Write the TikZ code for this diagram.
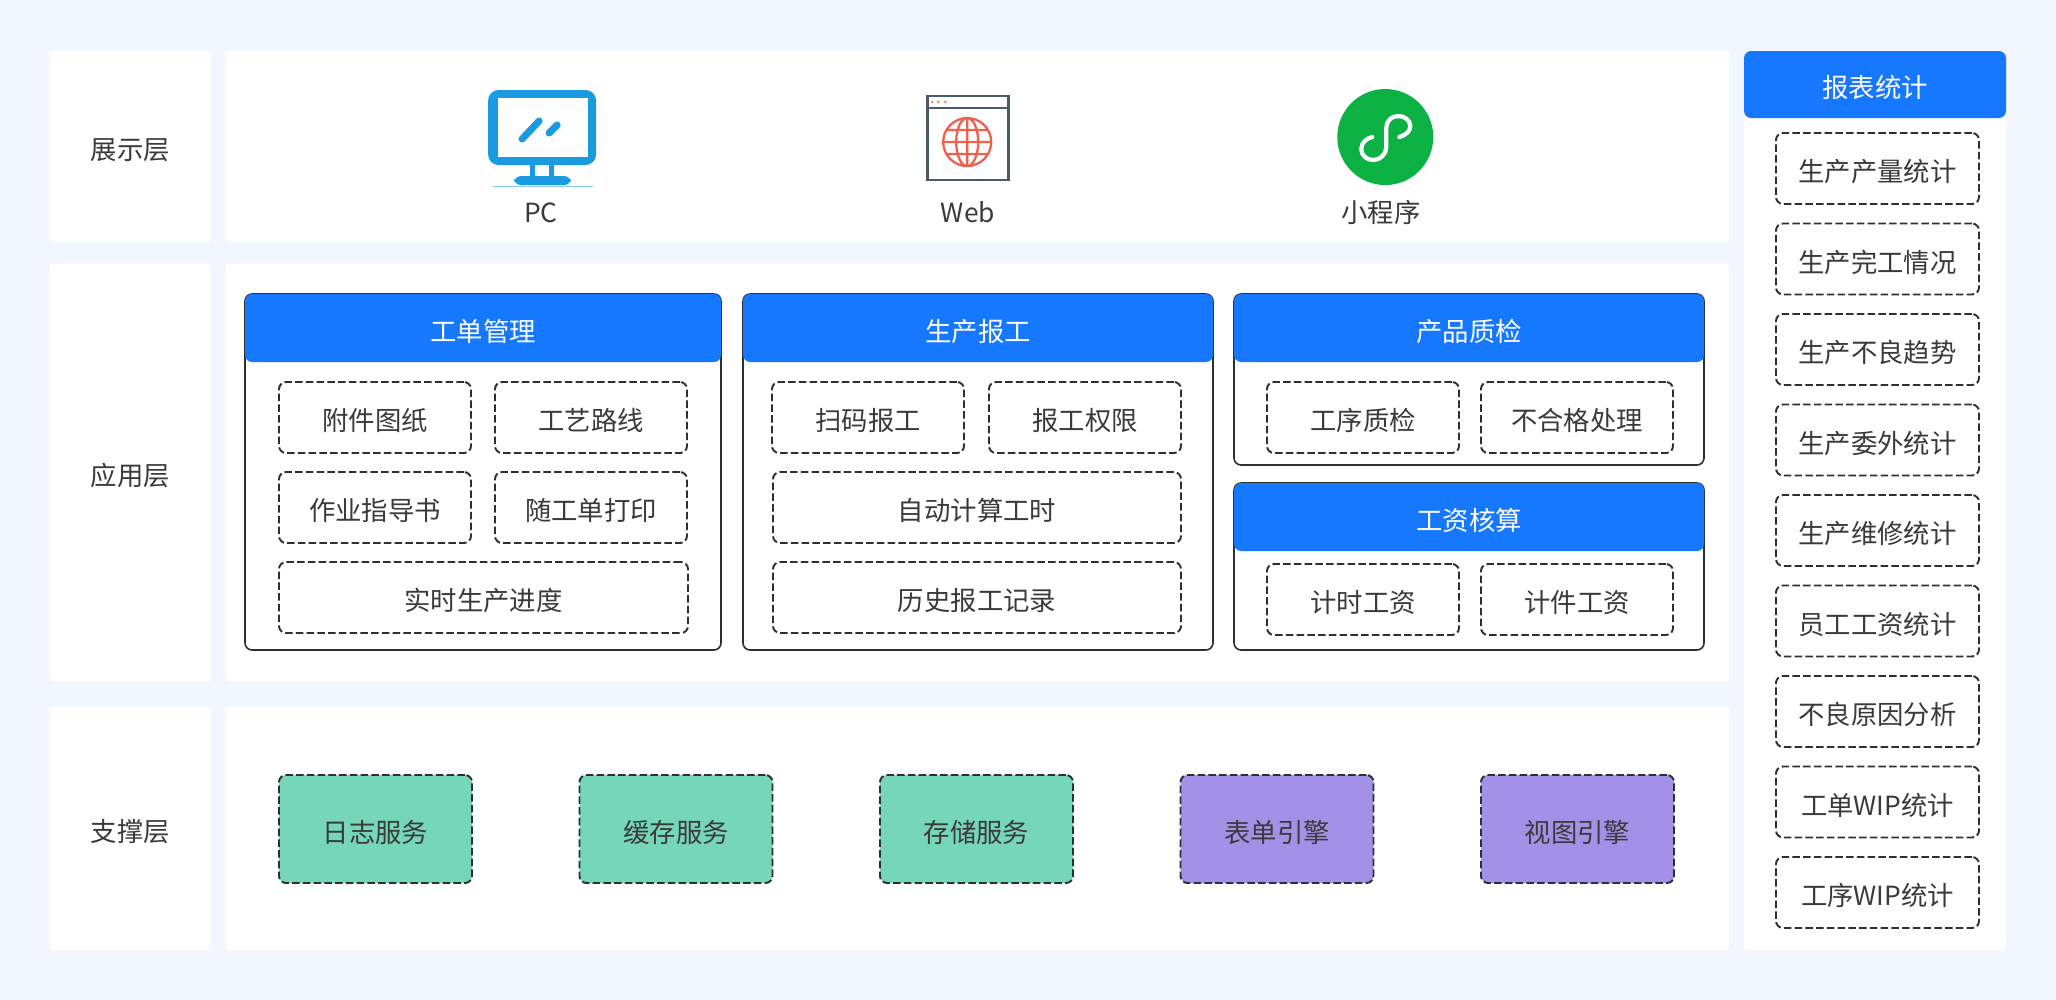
\documentclass[tikz,border=0pt]{standalone}
\usepackage{fontspec}
\setmainfont{Noto Sans CJK SC}
\usepackage{tikz}
\usetikzlibrary{positioning}
\definecolor{pagebg}{HTML}{F2F6FF}
\definecolor{headblue}{HTML}{1677FF}
\definecolor{textgray}{HTML}{3A3A3A}
\definecolor{framegray}{HTML}{2B2F36}
\definecolor{svcgreen}{HTML}{75D6B8}
\definecolor{svcpurple}{HTML}{A391E8}
\definecolor{pcblue}{HTML}{1A9BE0}
\definecolor{webgray}{HTML}{4A5A68}
\definecolor{webred}{HTML}{F0604F}
\definecolor{miniGreen}{HTML}{0CB144}

\begin{document}
\begin{tikzpicture}[
  every node/.style={font=\fontsize{15}{18}\selectfont, text=textgray, inner sep=0pt, outer sep=0pt,
                     text height=15.2pt, text depth=0pt},
  panel/.style={rectangle, fill=white, rounded corners=1pt, minimum width=3.22cm},
  group/.style={rectangle, rounded corners=4pt, draw=framegray, line width=0.9pt, fill=white},
  head/.style={rectangle, rounded corners=4pt, fill=headblue, text=white, minimum height=1.36cm},
  item/.style={rectangle, rounded corners=4pt, draw=framegray, line width=1.1pt,
               dash pattern=on 0.15cm off 0.065cm, minimum width=3.84cm, minimum height=1.42cm},
  wide/.style={item, minimum width=8.16cm},
  stat/.style={item, minimum width=4.06cm},
  green/.style={item, fill=svcgreen, minimum width=3.86cm, minimum height=2.16cm},
  purple/.style={item, fill=svcpurple, minimum width=3.86cm, minimum height=2.16cm},
]
\fill[pagebg] (0,0) rectangle (41.12,-20);

% Layers
\node[panel, minimum height=3.82cm, anchor=north west] (showlabel) at (1.0,-1.02) {展示层};
\node[panel, minimum height=3.82cm, minimum width=30.06cm, right=0.3cm of showlabel] (showmain) {};
\node[panel, minimum height=8.34cm, below=0.44cm of showlabel] (applabel) {应用层};
\node[panel, minimum height=8.34cm, minimum width=30.06cm, right=0.3cm of applabel] (appmain) {};
\node[panel, minimum height=4.86cm, below=0.52cm of applabel] (baselabel) {支撑层};
\node[panel, minimum height=4.86cm, minimum width=30.06cm, right=0.3cm of baselabel] (basemain) {};
\node[panel, minimum height=17.98cm, minimum width=5.24cm, right=0.3cm of showmain.north east, anchor=north west] (statmain) {};

% Client icons
\begin{scope}[x=0.02cm, y=-0.02cm]
  % PC
  \fill[pcblue, rounded corners=6pt] (488,90) rectangle (596,165);
  \fill[white] (498,98) rectangle (588,157);
  \fill[pcblue] (530,165) rectangle (535,177) (549,165) rectangle (554,177);
  \fill[pcblue, rounded corners=4pt] (514,176) rectangle (571,185);
  \draw[pcblue!50, line width=0.4pt] (493,186) -- (593,186);
  \draw[pcblue, line width=4pt, line cap=round] (522,139) -- (539,121) (549,133) -- (557,125);
  % Web
  \draw[webgray, line width=1.6pt] (927,96) rectangle (1008,180) (927,108) -- (1008,108);
  \fill[webred!70] (932,102) circle (1.6) (938,102) circle (1.6) (945,102) circle (1.6);
  \draw[webred, line width=1.3pt] (967,142) circle [radius=24]
    (967,142) ellipse [x radius=11, y radius=24]
    (967,118) -- (967,166) (943,142) -- (991,142)
    (946.2,130) -- (987.8,130) (946.2,154) -- (987.8,154);
  % Mini program
  \fill[miniGreen] (1385,137) circle [radius=48];
  \draw[white, line width=2.4pt, line cap=round] (1399,137)
    .. controls (1406,135) and (1410,131) .. (1410,126)
    .. controls (1410,120) and (1404,116) .. (1398,116)
    .. controls (1391,116) and (1386,121) .. (1386,128)
    -- (1386,147)
    .. controls (1386,154) and (1380,160) .. (1373,160)
    .. controls (1366,160) and (1361,155) .. (1361,149)
    .. controls (1361,143) and (1366,138) .. (1372,137);
\end{scope}
\node (pclabel) at (10.82,-4.174) {PC};
\node (weblabel) at (19.36,-4.174) {Web};
\node (minilabel) at (27.62,-4.174) {小程序};

% Work orders
\node[group, minimum width=9.52cm, minimum height=7.12cm, below right=0.6cm and 0.38cm of appmain.north west, anchor=north west] (ordergroup) {};
\node[head, minimum width=9.52cm, below=0pt of ordergroup.north] (orderhead) {工单管理};
\node[item, below right=0.4cm and 0.68cm of orderhead.south west, anchor=north west] (drawing) {附件图纸};
\node[item, right=0.48cm of drawing] (route) {工艺路线};
\node[item, below=0.38cm of drawing] (guide) {作业指导书};
\node[item, right=0.48cm of guide] (ticket) {随工单打印};
\node[wide, below=0.38cm of guide.south west, anchor=north west, minimum width=8.18cm] (progress) {实时生产进度};

% Reporting
\node[group, minimum width=9.4cm, minimum height=7.12cm, right=0.44cm of ordergroup] (reportgroup) {};
\node[head, minimum width=9.4cm, below=0pt of reportgroup.north] (reporthead) {生产报工};
\node[item, below right=0.4cm and 0.58cm of reporthead.south west, anchor=north west] (scan) {扫码报工};
\node[item, right=0.5cm of scan] (rights) {报工权限};
\node[wide, below=0.38cm of scan.south -| rights.east, anchor=north east] (hours) {自动计算工时};
\node[wide, below=0.38cm of hours] (history) {历史报工记录};

% Quality
\node[group, minimum width=9.4cm, minimum height=3.42cm, right=0.42cm of reportgroup.north east, anchor=north west] (qualitygroup) {};
\node[head, minimum width=9.4cm, below=0pt of qualitygroup.north] (qualityhead) {产品质检};
\node[item, below right=0.4cm and 0.66cm of qualityhead.south west, anchor=north west] (process) {工序质检};
\node[item, right=0.44cm of process] (reject) {不合格处理};

% Wages
\node[group, minimum width=9.4cm, minimum height=3.34cm, below=0.36cm of qualitygroup] (wagegroup) {};
\node[head, minimum width=9.4cm, below=0pt of wagegroup.north] (wagehead) {工资核算};
\node[item, below right=0.26cm and 0.66cm of wagehead.south west, anchor=north west] (timewage) {计时工资};
\node[item, right=0.44cm of timewage] (piecewage) {计件工资};

% Support services
\node[green, below right=1.36cm and 1.06cm of basemain.north west, anchor=north west] (logsvc) {日志服务};
\node[green, right=2.15cm of logsvc] (cachesvc) {缓存服务};
\node[green, right=2.15cm of cachesvc] (storesvc) {存储服务};
\node[purple, right=2.15cm of storesvc] (formsvc) {表单引擎};
\node[purple, right=2.15cm of formsvc] (viewsvc) {视图引擎};

% Statistics
\node[head, minimum width=5.24cm, minimum height=1.34cm, below=0pt of statmain.north] (stathead) {报表统计};
\node[stat, below=0.3cm of stathead, xshift=0.05cm] (stat1) {生产产量统计};
\node[stat, below=0.39cm of stat1] (stat2) {生产完工情况};
\node[stat, below=0.39cm of stat2] (stat3) {生产不良趋势};
\node[stat, below=0.39cm of stat3] (stat4) {生产委外统计};
\node[stat, below=0.39cm of stat4] (stat5) {生产维修统计};
\node[stat, below=0.39cm of stat5] (stat6) {员工工资统计};
\node[stat, below=0.39cm of stat6] (stat7) {不良原因分析};
\node[stat, below=0.39cm of stat7] (stat8) {工单WIP统计};
\node[stat, below=0.39cm of stat8] (stat9) {工序WIP统计};
\end{tikzpicture}
\end{document}
